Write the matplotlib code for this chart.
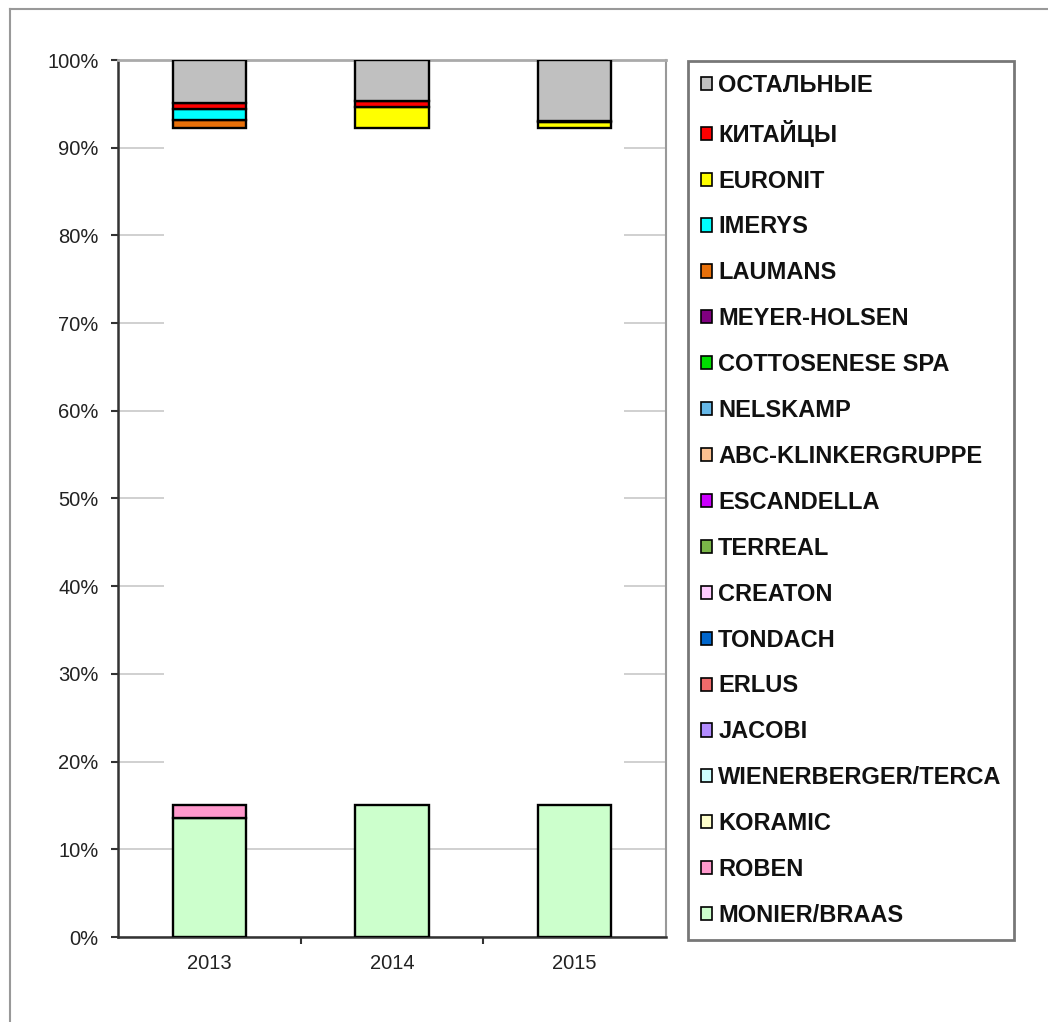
import matplotlib
matplotlib.use("Agg")
import matplotlib.pyplot as plt
from matplotlib.patches import Patch, Rectangle
from matplotlib.lines import Line2D
import numpy as np

plt.rcParams["font.family"] = ["Liberation Sans", "DejaVu Sans"]

years = ["2013", "2014", "2015"]

# shares, % (bottom of the stack first)
monier_braas = [13.55, 15.05, 15.05]
roben = [1.5, 0.0, 0.0]
# companies in the middle of the stack are blanked out in the source picture
hidden_middle = [77.15, 77.25, 77.25]
laumans = [1.0, 0.0, 0.0]
imerys = [1.2, 0.0, 0.0]
euronit = [0.0, 2.3, 0.65]
kitaitsy = [0.7, 0.75, 0.15]
ostalnye = [4.9, 4.65, 6.9]

legend_names = ["ОСТАЛЬНЫЕ", "КИТАЙЦЫ", "EURONIT", "IMERYS", "LAUMANS",
                "MEYER-HOLSEN", "COTTOSENESE SPA", "NELSKAMP", "ABC-KLINKERGRUPPE",
                "ESCANDELLA", "TERREAL", "CREATON", "TONDACH", "ERLUS", "JACOBI",
                "WIENERBERGER/TERCA", "KORAMIC", "ROBEN", "MONIER/BRAAS"]
legend_colors = ["#C0C0C0", "#FF0000", "#FFFF00", "#00FFFF", "#E8700A",
                 "#800080", "#00DD00", "#66B8E8", "#FAC090",
                 "#CC00FF", "#7AB648", "#FFCCFF", "#0066CC", "#F06A6A", "#B38CFF",
                 "#CCFFFF", "#FFFFCC", "#FF99CC", "#CCFFCC"]
color_of = dict(zip(legend_names, legend_colors))

bottom_series = [("MONIER/BRAAS", monier_braas), ("ROBEN", roben)]
top_series = [("LAUMANS", laumans), ("IMERYS", imerys), ("EURONIT", euronit),
              ("КИТАЙЦЫ", kitaitsy), ("ОСТАЛЬНЫЕ", ostalnye)]

fig = plt.figure(figsize=(10.48, 10.22), dpi=100)
ax = fig.add_axes([118 / 1048, 85 / 1022, 548 / 1048, 877 / 1022])

x = np.arange(len(years))
width = 0.4

ax.set_xlim(-0.5, 2.5)
ax.set_ylim(0, 100)
ax.set_yticks(np.arange(0, 101, 10))
ax.set_yticklabels([f"{v}%" for v in range(0, 101, 10)])
ax.yaxis.grid(True, color="#C8C8C8", lw=1.2, zorder=0)
ax.set_axisbelow(True)

cum = np.zeros(len(years))
for name, vals in bottom_series:
    vals = np.array(vals)
    mask = vals > 0
    ax.bar(x[mask], vals[mask], width, bottom=cum[mask], color=color_of[name],
           edgecolor="black", lw=1.7, zorder=3)
    cum += vals

# blank band over the middle companies (as in the source)
gap_lo = cum.max()
cum += np.array(hidden_middle)
gap_hi = cum.min()
ax.add_patch(Rectangle((-0.25, gap_lo), 2.52, gap_hi - gap_lo, facecolor="white",
                       edgecolor="none", zorder=2))

for name, vals in top_series:
    vals = np.array(vals)
    mask = vals > 0
    ax.bar(x[mask], vals[mask], width, bottom=cum[mask], color=color_of[name],
           edgecolor="black", lw=1.7, zorder=3)
    cum += vals

ax.set_xticks(x)
ax.set_xticklabels(years)
ax.set_xticks([0.5, 1.5], minor=True)
ax.tick_params(axis="x", which="major", length=0, pad=12, labelsize=14.5, labelcolor="#222222")
ax.tick_params(axis="x", which="minor", length=5, width=1.5, direction="out", color="#333333")
ax.tick_params(axis="y", length=5, width=1.5, direction="out", color="#333333",
               pad=9, labelsize=14.5, labelcolor="#222222")

ax.spines["left"].set_color("#333333")
ax.spines["left"].set_linewidth(1.8)
ax.spines["bottom"].set_color("#333333")
ax.spines["bottom"].set_linewidth(1.8)
ax.spines["top"].set_color("#AAAAAA")
ax.spines["top"].set_linewidth(2)
ax.spines["right"].set_color("#999999")
ax.spines["right"].set_linewidth(1.5)

handles = [Patch(facecolor=c, edgecolor="black", lw=1.2) for c in legend_colors]
leg = fig.legend(handles, legend_names, loc="upper left",
                 bbox_to_anchor=(688 / 1048, 1 - 61 / 1022), bbox_transform=fig.transFigure,
                 borderaxespad=0, fancybox=False, frameon=True,
                 prop={"weight": "bold", "size": 17},
                 handlelength=0.46, handleheight=0.48, handletextpad=0.28,
                 labelspacing=0.97, borderpad=0.54)
leg.get_frame().set_edgecolor("#555555")
leg.get_frame().set_linewidth(2)
for t in leg.get_texts():
    t.set_color("#111111")

# outer chart border
fig.add_artist(Line2D([10 / 1048, 1], [1 - 9 / 1022, 1 - 9 / 1022], transform=fig.transFigure,
                      color="#999999", lw=1.5))
fig.add_artist(Line2D([10 / 1048, 10 / 1048], [0, 1 - 9 / 1022], transform=fig.transFigure,
                      color="#999999", lw=1.5))

fig.savefig("out.png", dpi=100)
